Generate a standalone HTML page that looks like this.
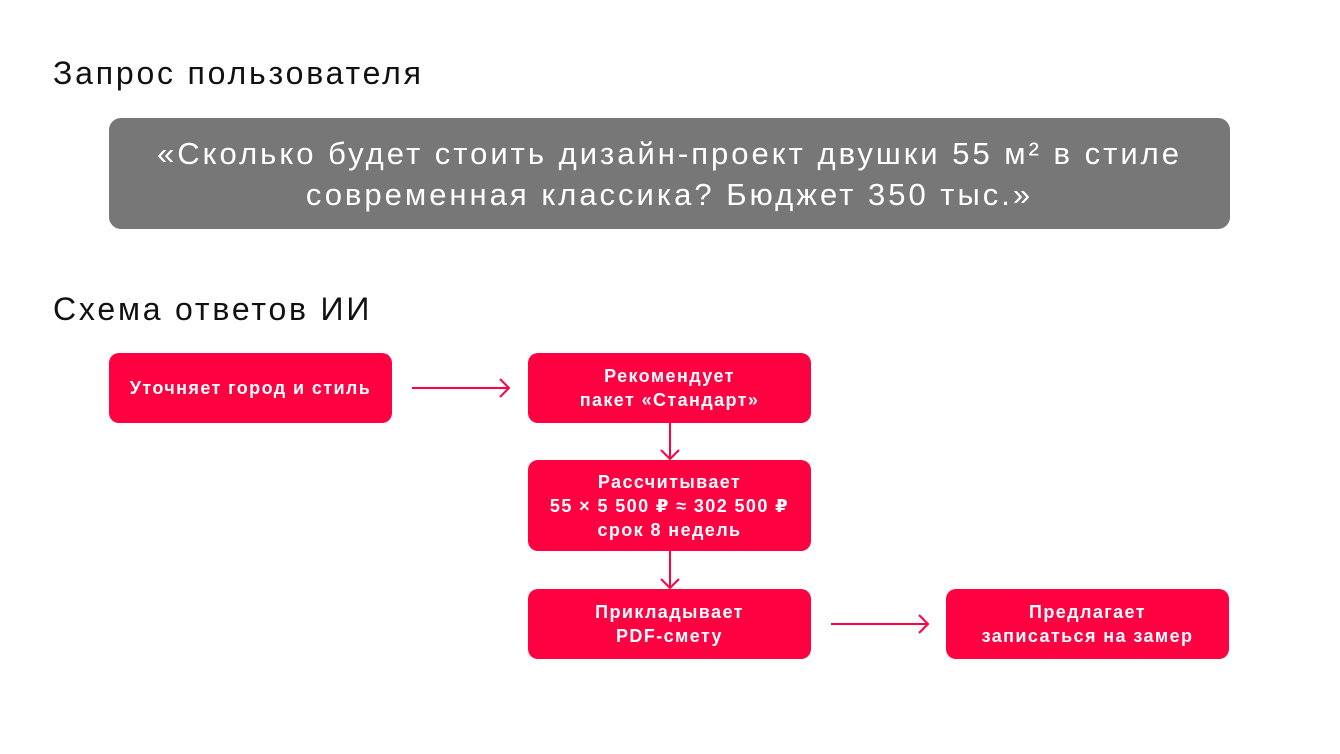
<!DOCTYPE html>
<html><head><meta charset="utf-8"><style>
body{margin:0;width:1340px;height:754px;background:#fff;position:relative;font-family:"Liberation Sans","DejaVu Sans",sans-serif;overflow:hidden}
.t{position:absolute;left:53px;font-size:32px;letter-spacing:2.8px;color:#111}
.g{position:absolute;left:109px;top:118px;width:1121px;height:111px;background:#777;border-radius:12px;color:#fff;font-size:31px;letter-spacing:3px;text-align:center;line-height:41px;display:flex;align-items:center;justify-content:center}
.b{position:absolute;width:283px;background:#ff0040;border-radius:10px;color:#fff;font-weight:bold;font-size:18px;letter-spacing:1.4px;line-height:24px;text-align:center;display:flex;align-items:center;justify-content:center}
</style></head><body>
<div class="t" style="top:55px">Запрос пользователя</div>
<div class="g"><div>«Сколько будет стоить дизайн-проект двушки 55 м² в стиле<br>современная классика? Бюджет 350 тыс.»</div></div>
<div class="t" style="top:291px">Схема ответов ИИ</div>
<div class="b" style="left:109px;top:353px;height:70px">Уточняет город и стиль</div>
<div class="b" style="left:528px;top:353px;height:70px">Рекомендует<br>пакет «Стандарт»</div>
<div class="b" style="left:528px;top:460px;height:91px">Рассчитывает<br>55 × 5 500 ₽ ≈ 302 500 ₽<br>срок 8 недель</div>
<div class="b" style="left:528px;top:589px;height:70px">Прикладывает<br>PDF-смету</div>
<div class="b" style="left:946px;top:589px;height:70px">Предлагает<br>записаться на замер</div>
<svg width="1340" height="754" style="position:absolute;left:0;top:0" fill="none" stroke="#ff0040" stroke-width="2">
<path d="M412 388H509M500 379l9 9-9 9"/>
<path d="M831 624H928M919 615l9 9-9 9"/>
<path d="M670 423V459M661 450l9 9 9-9"/>
<path d="M670 551V588M661 579l9 9 9-9"/>
</svg>
</body></html>
